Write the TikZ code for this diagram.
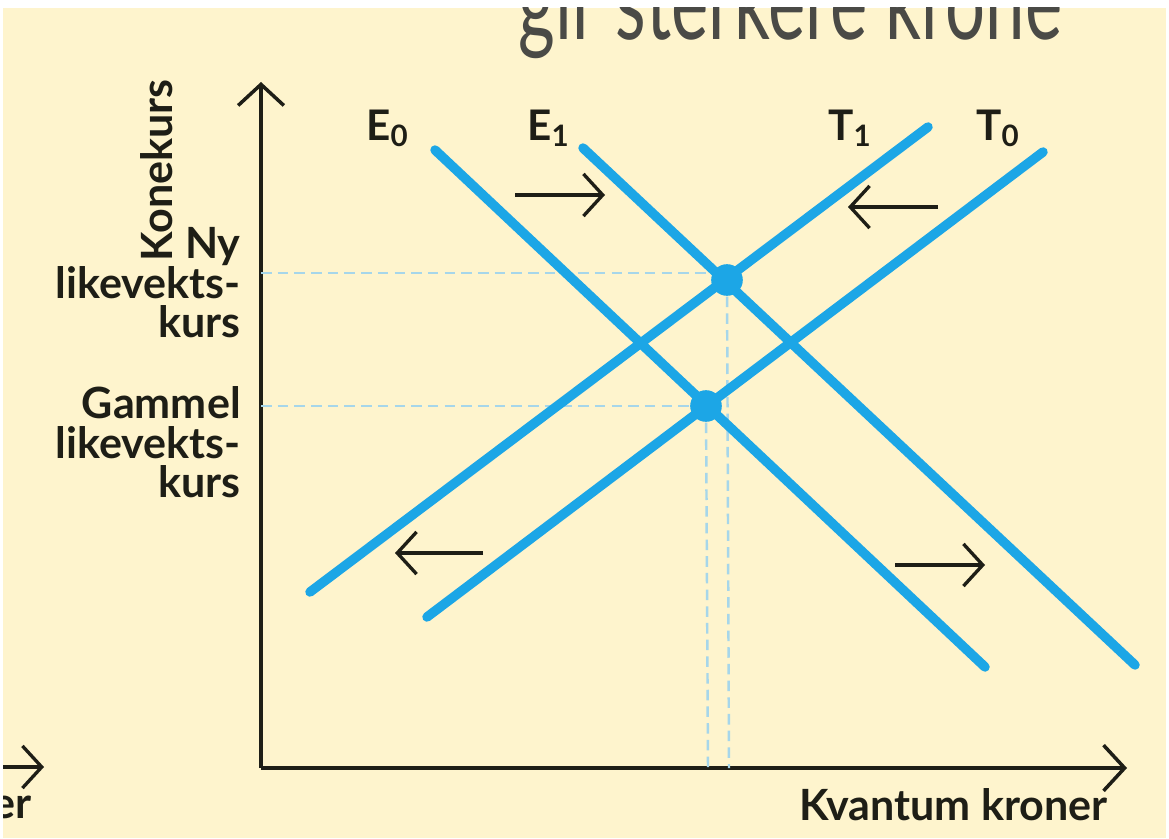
\documentclass[tikz,border=0pt]{standalone}
\usepackage{fontspec}
\setmainfont{Lato}
\usetikzlibrary{arrows.meta}
\definecolor{cream}{HTML}{FEF4CD}
\definecolor{lblue}{HTML}{1CA6E6}
\definecolor{dblue}{HTML}{A6D6EA}
\definecolor{ink}{HTML}{1E1E16}
\definecolor{titlegray}{HTML}{4A4A46}
\begin{document}
\begin{tikzpicture}[x=0.02cm,y=-0.02cm,
  curve/.style={lblue, line width=5.4pt, line cap=round},
  axis/.style={ink, line width=2pt, -{Straight Barb[length=12pt,width=26pt,line width=2pt]}},
  shiftarrow/.style={ink, line width=1.9pt, -{Straight Barb[length=11pt,width=24pt,line width=1.9pt]}},
  guide/.style={dblue, line width=1.4pt, dash pattern=on 6pt off 3.5pt},
  eqdot/.style={circle, fill=lblue, inner sep=0pt, minimum size=18pt},
  lab/.style={font=\fontsize{24.5}{24.5}\selectfont\bfseries, text=ink, inner sep=0pt},
  sublab/.style={font=\fontsize{24}{24}\selectfont\bfseries, text=ink, inner sep=0pt, anchor=base west}]
\useasboundingbox (0,0) rectangle (1169,838);
\fill[white] (0,0) rectangle (1169,838);
\fill[cream] (3,8) rectangle (1166,838);
\begin{scope}
  \clip (3,8) rectangle (1166,838);
  \node[anchor=base west, inner sep=0pt, text=titlegray, font=\fontsize{60}{60}\selectfont] (title) at (518,40) {\scalebox{0.67}[1]{gir sterkere krone}};
  \node[lab, anchor=base east] (cutlab) at (32,818) {er};
  \coordinate (cutA) at (-10,767);
  \coordinate (cutB) at (44,767);
  \draw[shiftarrow] (cutA) -- (cutB);
\end{scope}
% axes
\coordinate (O) at (261,768);
\coordinate (ytop) at (261,82);
\coordinate (xend) at (1127,768);
\draw[axis] (O) -- (ytop);
\draw[axis] (O) -- (xend);
% curve endpoints
\coordinate (E0a) at (435,150); \coordinate (E0b) at (985,667);
\coordinate (E1a) at (583,148); \coordinate (E1b) at (1135,665);
\coordinate (T1a) at (310,592); \coordinate (T1b) at (928,127);
\coordinate (T0a) at (427,617); \coordinate (T0b) at (1043,152);
% equilibrium points
\coordinate (newEq) at (727,280);
\coordinate (oldEq) at (706,406);
\coordinate (newY) at (261,273);
\coordinate (newYd) at (727,273);
\coordinate (oldY) at (261,406);
\coordinate (newX) at (729,768);
\coordinate (oldX) at (708,768);
\draw[guide] (newY) -- (newYd);
\draw[guide] (oldY) -- (oldEq);
\draw[guide] (newEq) -- (newX);
\draw[guide] (oldEq) -- (oldX);
\draw[curve] (E0a) -- (E0b);
\draw[curve] (E1a) -- (E1b);
\draw[curve] (T1a) -- (T1b);
\draw[curve] (T0a) -- (T0b);
\node[eqdot] (nydot) at (newEq) {};
\node[eqdot] (gammeldot) at (oldEq) {};
% shift arrows
\coordinate (s1a) at (515,195); \coordinate (s1b) at (605,195);
\coordinate (s2a) at (938,207); \coordinate (s2b) at (848,207);
\coordinate (s3a) at (483,553); \coordinate (s3b) at (395,553);
\coordinate (s4a) at (895,565); \coordinate (s4b) at (985,565);
\draw[shiftarrow] (s1a) -- (s1b);
\draw[shiftarrow] (s2a) -- (s2b);
\draw[shiftarrow] (s3a) -- (s3b);
\draw[shiftarrow] (s4a) -- (s4b);
% curve labels
\node[sublab] (lE0) at (366,140) {E\textsubscript{0}};
\node[sublab] (lE1) at (527,140) {E\textsubscript{1}};
\node[sublab] (lT1) at (828,140) {T\textsubscript{1}};
\node[sublab] (lT0) at (976,140) {T\textsubscript{0}};
% axis labels
\node[lab, rotate=90, anchor=base west] (ylab) at (172,262) {Konekurs};
\node[lab, anchor=base east] (xlab) at (1108,820) {Kvantum kroner};
\node[lab, anchor=base east] (ny1) at (241,258) {Ny};
\node[lab, anchor=base east] (ny2) at (241,298) {likevekts-};
\node[lab, anchor=base east] (ny3) at (241,337) {kurs};
\node[lab, anchor=base east] (g1) at (241,418) {Gammel};
\node[lab, anchor=base east] (g2) at (241,458) {likevekts-};
\node[lab, anchor=base east] (g3) at (241,497) {kurs};
\end{tikzpicture}
\end{document}
